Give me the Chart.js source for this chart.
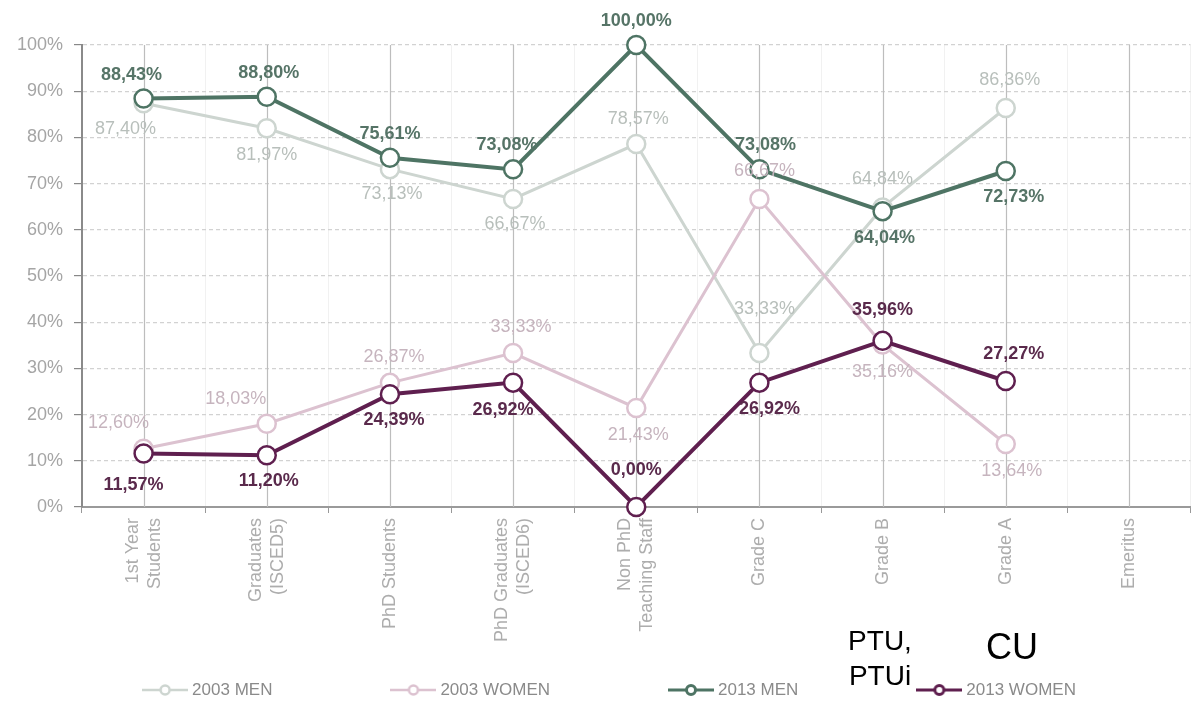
<!DOCTYPE html>
<html>
<head>
<meta charset="utf-8">
<script src="https://cdn.jsdelivr.net/npm/chart.js@4.4.1/dist/chart.umd.min.js"></script>
<style>
    html, body { margin: 0; padding: 0; background: #fff; overflow: hidden; }
    #wrap { position: relative; width: 1202px; height: 703px; }
    .nota { position: absolute; font-family: "Liberation Sans", Arial, sans-serif; color: #000; text-align: center; line-height: 1.25; }
</style>
</head>
<body>
<div id="wrap">
    <canvas id="grafico" width="1202" height="703"></canvas>
    <div class="nota" style="left:830px; top:623px; width:100px; font-size:28px;">PTU,<br>PTUi</div>
    <div class="nota" style="left:962px; top:624px; width:100px; font-size:36px;">CU</div>
</div>
<script>
// categorias do eixo x
const categorias = [
    ['1st Year', 'Students'],
    ['Graduates', '(ISCED5)'],
    ['PhD Students'],
    ['PhD Graduates', '(ISCED6)'],
    ['Non PhD', 'Teaching Staff'],
    ['Grade C'],
    ['Grade B'],
    ['Grade A'],
    ['Emeritus']
];

const nomes = ['2003 MEN', '2003 WOMEN', '2013 MEN', '2013 WOMEN'];

const men2003   = [87.40, 81.97, 73.13, 66.67, 78.57, 33.33, 64.84, 86.36, null];
const women2003 = [12.60, 18.03, 26.87, 33.33, 21.43, 66.67, 35.16, 13.64, null];
const men2013   = [88.43, 88.80, 75.61, 73.08, 100.00, 73.08, 64.04, 72.73, null];
const women2013 = [11.57, 11.20, 24.39, 26.92, 0.00, 26.92, 35.96, 27.27, null];

const yMin = 0, yMax = 100, yPasso = 10;

// onde fica o rotulo de cada ponto [dx, dy]
const rot03m = [[-18, 26], [0, 27], [2, 25], [2, 25], [2, -25], [5, -44], [0, -28], [4, -28]];
const rot03w = [[-25, -26], [-31, -25], [4, -26], [8, -26], [2, 27], [5, -28], [0, 27], [6, 27]];
const rot13m = [[-12, -23], [2, -24], [0, -24], [-6, -24], [0, -24], [6, -24], [2, 27], [8, 26]];
const rot13w = [[-10, 31], [2, 26], [4, 26], [-10, 27], [0, -37], [10, 26], [0, -31], [8, -27]];

const cores = {
    m03: '#cdd5d0', w03: '#dcc2d0', m13: '#4e7464', w13: '#5f1f4f',
    t03m: '#b8bfbb', t03w: '#c6b4be', t13m: '#567467', t13w: '#5a2a4c'
};

function marcador(cor, lw) {
    var c = document.createElement('canvas');
    c.width = 46; c.height = 14;
    var g = c.getContext('2d');
    g.strokeStyle = cor; g.lineWidth = lw;
    g.beginPath(); g.moveTo(0, 7); g.lineTo(46, 7); g.stroke();
    g.beginPath(); g.arc(23, 7, 4.5, 0, Math.PI * 2);
    g.fillStyle = '#fff'; g.fill(); g.stroke();
    return c;
}
const marcadores = [marcador(cores.m03, 2.5), marcador(cores.w03, 2.5), marcador(cores.m13, 3), marcador(cores.w13, 3)];

function serie(label, data, cor, lw, ordem, corTexto, negrito, rot) {
    return {
        label: label,
        data: data,
        borderColor: cor,
        borderWidth: lw,
        pointRadius: 9,
        pointHoverRadius: 9,
        pointBorderWidth: 2.5,
        pointBackgroundColor: '#fff',
        pointBorderColor: cor,
        pointStyle: 'circle',
        tension: 0,
        clip: false,
        order: ordem,
        corTexto: corTexto,
        negrito: negrito,
        rot: rot
    };
}

// linhas verticais no centro de cada categoria
const linhasCentro = {
    id: 'linhasCentro',
    beforeDatasetsDraw(chart) {
        const ctx = chart.ctx, x = chart.scales.x, a = chart.chartArea;
        ctx.save();
        ctx.strokeStyle = '#bdbdbd';
        ctx.lineWidth = 1.2;
        categorias.forEach(function(c, i) {
            const px = Math.round(x.getPixelForValue(i)) + 0.5;
            ctx.beginPath(); ctx.moveTo(px, a.top); ctx.lineTo(px, a.bottom); ctx.stroke();
        });
        ctx.restore();
    }
};

// nomes das categorias, girados e centrados no tick
const nomesX = {
    id: 'nomesX',
    afterDraw(chart) {
        const ctx = chart.ctx, x = chart.scales.x;
        const lh = 22;
        ctx.save();
        ctx.fillStyle = '#adadad';
        ctx.font = '18px "Liberation Sans", Arial, sans-serif';
        ctx.textAlign = 'right';
        ctx.textBaseline = 'middle';
        categorias.forEach(function(linhas, i) {
            const px = x.getPixelForValue(i);
            linhas.forEach(function(t, j) {
                ctx.save();
                ctx.translate(px + (j - (linhas.length - 1) / 2) * lh, x.top + 11);
                ctx.rotate(-Math.PI / 2);
                ctx.fillText(t, 0, 0);
                ctx.restore();
            });
        });
        ctx.restore();
    }
};

// rotulos de valores
const rotulos = {
    id: 'rotulos',
    afterDatasetsDraw(chart) {
        const ctx = chart.ctx;
        ctx.save();
        ctx.textAlign = 'center';
        ctx.textBaseline = 'middle';
        chart.data.datasets.forEach(function(ds, di) {
            const meta = chart.getDatasetMeta(di);
            ctx.fillStyle = ds.corTexto;
            ctx.font = (ds.negrito ? 'bold ' : '') + '18px "Liberation Sans", Arial, sans-serif';
            meta.data.forEach(function(p, i) {
                const v = ds.data[i];
                if (v === null || v === undefined) return;
                const txt = v.toFixed(2).replace('.', ',') + '%';
                ctx.fillText(txt, p.x + ds.rot[i][0], p.y + ds.rot[i][1]);
            });
        });
        ctx.restore();
    }
};

// legenda desenhada embaixo, itens bem espaçados
const legenda = {
    id: 'legenda',
    afterDraw(chart) {
        const ctx = chart.ctx;
        const espaco = 118, mk = 46, folga = 4;
        ctx.save();
        ctx.font = '17px "Liberation Sans", Arial, sans-serif';
        ctx.textAlign = 'left';
        ctx.textBaseline = 'middle';
        const larg = chart.data.datasets.map(function(ds) { return mk + folga + ctx.measureText(ds.label).width; });
        const total = larg.reduce(function(a, b) { return a + b; }, 0) + espaco * (larg.length - 1);
        let x = chart.width / 2 + 8 - total / 2;
        const y = chart.height - 13;
        chart.data.datasets.forEach(function(ds, i) {
            ctx.drawImage(marcadores[i], x, y - 7);
            ctx.fillStyle = '#8a8a8a';
            ctx.fillText(ds.label, x + mk + folga, y);
            x += larg[i] + espaco;
        });
        ctx.restore();
    }
};

Chart.defaults.font.family = '"Liberation Sans", Arial, sans-serif';

var ctx = document.getElementById('grafico').getContext('2d');
var myChart = new Chart(ctx, {
    type: 'line',
    data: {
        labels: categorias,
        datasets: [
            serie(nomes[0], men2003, cores.m03, 3, 3, cores.t03m, false, rot03m),
            serie(nomes[1], women2003, cores.w03, 3, 2, cores.t03w, false, rot03w),
            serie(nomes[2], men2013, cores.m13, 4, 1, cores.t13m, true, rot13m),
            serie(nomes[3], women2013, cores.w13, 4, 0, cores.t13w, true, rot13w)
        ]
    },
    options: {
        responsive: false,
        animation: false,
        layout: { padding: { top: 45, left: 0, right: 0, bottom: 46 } },
        scales: {
            x: {
                type: 'category',
                offset: true,
                grid: { offset: true, color: '#f1f1f1', tickColor: '#999', tickLength: 6, lineWidth: 1 },
                border: { color: '#9a9a9a', width: 2 },
                ticks: { display: false, autoSkip: false },
                afterFit: function(s) { s.height = 150; }
            },
            y: {
                min: yMin, max: yMax,
                grid: { color: '#d2d2d2', lineWidth: 1.2, tickColor: '#888', tickLength: 8, tickBorderDash: [] },
                border: { color: '#8a8a8a', width: 2, dash: [4, 3] },
                ticks: {
                    stepSize: yPasso, padding: 11, color: '#a5a5a5',
                    font: { size: 18 },
                    callback: function(v) { return v + '%'; }
                },
                afterFit: function(s) { s.width = 82; }
            }
        },
        plugins: {
            tooltip: { enabled: false },
            legend: { display: false }
        }
    },
    plugins: [linhasCentro, rotulos, nomesX, legenda]
});
</script>
</body>
</html>
